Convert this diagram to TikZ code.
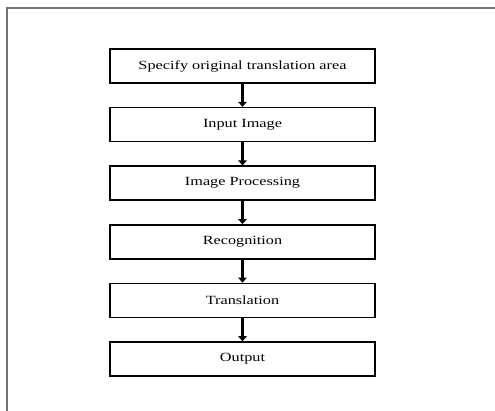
\documentclass[tikz,border=0pt]{standalone}
\usepackage{fontspec}
\setmainfont{Liberation Serif}
\usetikzlibrary{arrows.meta,positioning}
\tikzset{
    %Define standard arrow tip
    >={Triangle[width=8.5pt,length=5pt]},
    %Define style for boxes
    boks/.style={
           rectangle,
           draw=black, line width=1.5pt,
           minimum width=265pt,
           minimum height=34pt,
           font=\fontsize{12.5}{15}\selectfont},
    % Define arrow style
    pil/.style={
           ->,
           line width=2.1pt}
}
\newcommand{\bred}[1]{\scalebox{1.3}[1]{#1}}

\begin{document}
\begin{tikzpicture}[x=1pt, y=1pt, node distance=23.1pt]
\useasboundingbox (0,0) rectangle (495,411);
%Frame
\draw[black!55, line width=2pt] (7,0) |- (495,402.5);
%Nodes
\node[boks] (area) at (242.5,345) {\bred{Specify original translation area}};
\node[boks] (input) [below=of area] {\bred{Input Image}};
\node[boks] (proc) [below=of input] {\bred{Image Processing}};
\node[boks] (recog) [below=of proc] {\bred{Recognition}};
\node[boks] (transl) [below=of recog] {\bred{Translation}};
\node[boks] (output) [below=of transl] {\bred{Output}};
%Arrows
\draw[pil] (area) -- (input);
\draw[pil] (input) -- (proc);
\draw[pil] (proc) -- (recog);
\draw[pil] (recog) -- (transl);
\draw[pil] (transl) -- (output);
\end{tikzpicture}
\end{document}
